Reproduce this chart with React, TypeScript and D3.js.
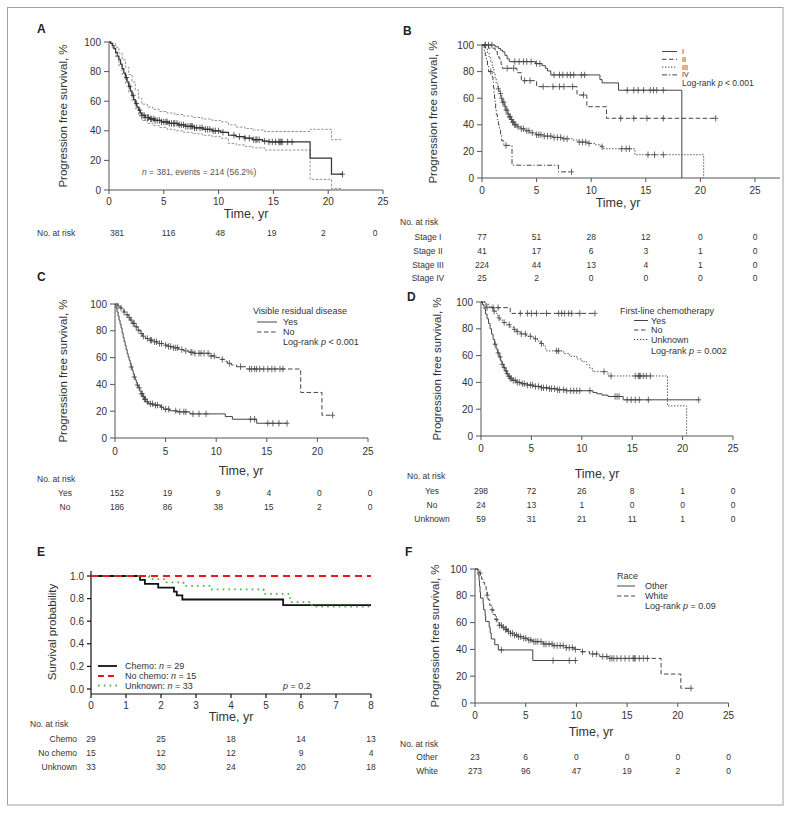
import React from 'react';
import * as d3 from 'd3';

const FONT = "'Liberation Sans', Arial, Helvetica, sans-serif";
const INK = '#333';
const AX = '#555';
const CUR = '#444';

// ---------------- shared ticks ----------------
const TIME_TICKS = [0, 5, 10, 15, 20, 25];
const PCT_TICKS = [0, 20, 40, 60, 80, 100];

// ---------------- Panel A ----------------
const A_OVERALL = [[0,100],[0.15,99],[0.3,97.5],[0.45,95.5],[0.6,93],[0.75,90.5],[0.9,88],[1.05,85],[1.2,82],[1.35,79],[1.5,76],[1.65,73],[1.8,70],[1.95,67],[2.1,64],[2.25,61],[2.4,58.5],[2.55,56],[2.7,54],[2.85,52],[3.0,50.5],[3.3,49],[3.7,48],[4.2,47],[4.8,46],[5.5,45],[6.3,44],[7.0,43],[7.8,42],[8.6,41],[9.4,40],[10.2,39],[10.9,37],[11.6,36],[12.4,35],[13.1,34],[14.0,33],[14.6,32.5],[18.35,21.5],[20.3,10.7]];
const A_UPPER = [[0,100],[0.3,99],[0.6,96.5],[0.9,92.5],[1.2,88],[1.5,83],[1.8,78],[2.1,73],[2.4,67.5],[2.7,62],[3.0,58],[3.5,56],[4.0,54.5],[4.6,53],[5.3,52],[6.0,51],[6.8,50],[7.6,49],[8.5,48],[9.4,47],[10.2,46],[10.9,44],[11.6,42.5],[12.4,41.5],[13.1,40.5],[14.2,39.5],[18.35,41],[20.3,34]];
const A_LOWER = [[0,100],[0.3,96],[0.6,90],[0.9,84],[1.2,78],[1.5,72],[1.8,66],[2.1,60],[2.4,55],[2.7,50],[3.0,47],[3.5,45],[4.0,43.5],[4.6,42.3],[5.3,41],[6.0,40],[6.8,39],[7.6,38],[8.5,37],[9.4,36],[10.2,35],[10.9,31.5],[11.6,30.5],[12.4,29.5],[13.1,28.5],[14.2,27],[18.35,7.2],[20.3,1]];
const A_END = 21.3;
const A_CENSOR = [1.6,1.9,2.2,2.5,2.8,3.0,3.2,3.3,3.5,3.6,3.8,3.9,4.1,4.2,4.4,4.6,4.8,5.0,5.2,5.3,5.5,5.7,5.9,6.0,6.2,6.4,6.6,6.8,7.0,7.2,7.4,7.5,7.6,7.8,8.0,8.3,8.5,8.8,9.0,9.2,9.5,9.7,10.0,10.4,11.4,11.9,12.4,12.8,13.2,13.4,13.5,13.7,14.2,14.6,14.9,15.2,15.5,15.6,15.7,15.8,16.3,16.7,21.3];
const A_RISK = [381, 116, 48, 19, 2, 0];

// ---------------- Panel B ----------------
const B_I = [[0,100],[1.2,98.7],[1.5,97.4],[1.7,96.1],[1.9,94.8],[2.1,92.2],[2.3,89.6],[2.5,87.5],[4.9,86],[5.5,84.5],[5.8,82.5],[6.0,80.5],[6.3,77.5],[10.8,74],[11.0,71.5],[12.5,66],[18.3,0]];
const B_I_END = 18.3;
const B_I_CENS = [0.3,0.6,0.9,3.0,3.4,3.8,4.1,4.5,5.0,5.3,6.6,7.1,7.4,7.8,8.1,8.4,9.1,9.4,13.3,13.9,14.3,14.8,15.4,15.7,16.0,16.6];
const B_II = [[0,100],[0.6,97.6],[1.2,95.1],[1.4,92.6],[1.55,90.2],[1.65,87.8],[1.75,85.4],[1.85,82.5],[3.2,79.2],[3.6,73.2],[5.0,68.7],[8.7,62.4],[9.6,53.6],[11.4,44.9]];
const B_II_END = 21.4;
const B_II_CENS = [0.3,2.3,2.9,3.9,4.4,5.6,6.5,7.1,7.5,8.3,9.3,12.7,13.9,15.1,16.6,21.4];
const B_III = [[0,100],[0.2,99],[0.35,97],[0.5,94],[0.65,91],[0.8,87],[0.95,83],[1.1,79],[1.2,75],[1.3,71],[1.45,67],[1.6,63.5],[1.75,60],[1.9,57],[2.05,54],[2.2,51],[2.35,48],[2.5,46],[2.65,44],[2.8,42],[2.95,40],[3.2,38.5],[3.5,37],[3.9,35.5],[4.4,34],[4.9,32.5],[5.6,31.5],[6.5,30.5],[7.3,29.5],[8.3,28.5],[8.8,27],[9.8,26],[10.4,25],[10.9,23.5],[11.1,22],[14.0,17.5],[20.3,0]];
const B_III_END = 20.3;
const B_III_CENS = [1.5,1.7,1.8,1.9,2.0,2.1,2.2,2.3,2.4,2.5,2.6,2.7,2.8,2.9,3.0,3.1,3.3,3.6,3.8,4.1,4.3,4.6,5.0,5.2,5.4,5.7,6.0,6.3,6.6,6.9,7.2,7.5,7.8,8.9,9.2,9.5,9.8,11.0,12.8,13.2,13.5,15.2,15.8,16.6];
const B_IV = [[0,100],[0.2,96],[0.3,92],[0.4,88],[0.5,84],[0.6,80],[0.95,76],[1.0,72],[1.05,68],[1.1,64],[1.15,60],[1.2,56],[1.25,52],[1.3,48],[1.4,44],[1.5,40],[1.6,36],[1.7,32],[1.8,28],[2.0,24.5],[2.75,9.6],[7.0,4.6]];
const B_IV_END = 8.2;
const B_IV_CENS = [0.8,2.2,8.2];
const B_RISK_LABELS = ['Stage I', 'Stage II', 'Stage III', 'Stage IV'];
const B_RISK = [[77,51,28,12,0,0],[41,17,6,3,1,0],[224,44,13,4,1,0],[25,2,0,0,0,0]];

// ---------------- Panel C ----------------
const C_YES = [[0,100],[0.1,97],[0.2,94],[0.3,91],[0.4,88],[0.5,85],[0.6,82],[0.7,78.5],[0.8,75],[0.9,72],[1.0,69],[1.1,66],[1.2,63],[1.3,60.5],[1.4,58],[1.5,55.5],[1.6,53],[1.7,50.5],[1.8,48],[1.9,45.5],[2.0,43.5],[2.1,41.5],[2.2,39.5],[2.3,37.5],[2.45,35],[2.6,33],[2.75,31],[2.9,29],[3.05,27],[3.3,25.5],[3.8,24.5],[4.5,23],[4.8,21.5],[5.4,20.3],[6.1,19.5],[7.4,18],[10.9,16],[11.6,14],[14.0,11]];
const C_YES_END = 17.0;
const C_YES_CENS = [1.6,1.9,2.2,2.4,2.6,2.7,2.8,2.9,3.0,3.2,3.5,3.7,4.0,4.2,4.6,5.0,5.3,6.0,6.4,6.8,7.0,7.7,8.3,9.0,13.4,13.8,15.1,15.6,16.2,17.0];
const C_NO = [[0,100],[0.3,98.5],[0.5,97],[0.7,95.5],[0.9,94],[1.1,92],[1.3,90],[1.5,88],[1.75,85.5],[2.0,83],[2.25,80.5],[2.5,78],[2.75,76],[3.0,74.3],[3.4,73],[3.8,71.8],[4.3,70.5],[4.8,69.3],[5.3,68.3],[5.8,67.3],[6.3,66],[6.8,65],[7.3,64],[7.8,63.2],[9.4,61.2],[9.9,60],[10.4,58.7],[10.8,57.2],[11.1,55.7],[11.5,54.5],[12.0,53.2],[13.0,51.5],[18.35,34],[20.45,17]];
const C_NO_END = 21.5;
const C_NO_CENS = [0.3,0.6,0.9,1.2,1.4,1.6,1.8,1.9,2.1,2.3,2.6,2.8,3.2,3.5,3.6,3.9,4.1,4.4,4.6,5.0,5.3,5.5,5.8,6.0,6.2,6.6,7.0,7.5,7.6,7.9,8.3,8.5,8.8,9.2,9.5,9.8,10.6,11.3,12.4,13.3,13.5,13.8,14.0,14.3,14.7,15.1,15.5,15.8,16.3,16.6,21.5];
const C_RISK_LABELS = ['Yes', 'No'];
const C_RISK = [[152,19,9,4,0,0],[186,86,38,15,2,0]];

// ---------------- Panel D ----------------
const D_YES = [[0,100],[0.15,98],[0.3,95],[0.45,91],[0.6,87.5],[0.75,84],[0.9,80],[1.05,76],[1.2,72],[1.35,68.5],[1.5,65],[1.65,62],[1.8,59],[1.95,56],[2.1,53.5],[2.25,51],[2.4,48.5],[2.55,46.5],[2.7,44.5],[2.85,43],[3.1,41.5],[3.5,40],[4.0,39],[4.6,38],[5.2,37],[6.0,36],[6.8,35.3],[7.6,34.5],[8.5,33.8],[11.1,32.5],[11.5,31.5],[12.0,30.5],[12.6,29.5],[14.1,27]];
const D_YES_END = 21.6;
const D_YES_CENS = [1.4,1.7,1.9,2.1,2.3,2.5,2.6,2.8,2.9,3.0,3.2,3.4,3.6,3.8,4.1,4.3,4.6,4.9,5.1,5.4,5.7,6.0,6.2,6.5,6.8,7.0,7.3,7.6,7.8,8.2,8.5,8.9,9.2,9.5,9.8,10.8,13.3,13.5,13.7,14.5,14.9,15.3,15.7,16.6,21.6];
const D_NO = [[0,100],[0.5,95.8],[2.9,91.5]];
const D_NO_END = 11.3;
const D_NO_CENS = [0.6,1.2,1.7,3.9,4.6,5.0,5.5,6.5,7.7,8.0,8.3,8.7,9.0,9.8,11.3];
const D_UNK = [[0,100],[0.5,98.3],[0.8,96.6],[1.1,94.9],[1.3,93.2],[1.5,91.5],[1.6,89.8],[1.75,88.1],[1.9,86.4],[2.2,84.7],[2.5,83],[2.9,81.3],[3.2,79.6],[3.5,77.9],[3.9,76.2],[4.5,74.4],[5.2,72.6],[5.6,70.8],[5.9,69],[6.2,67],[6.4,65],[6.5,63.5],[8.2,61.5],[8.8,59.5],[9.5,57.5],[10.0,55.5],[10.5,53],[10.8,50.5],[11.1,48],[12.6,44.8],[18.5,22.5],[20.4,0]];
const D_UNK_END = 20.4;
const D_UNK_CENS = [1.3,1.8,2.3,2.8,3.3,3.6,4.0,4.4,4.9,5.4,6.0,7.5,7.7,12.2,12.9,15.3,15.6,15.7,15.8,16.1,16.4,16.8];
const D_RISK_LABELS = ['Yes', 'No', 'Unknown'];
const D_RISK = [[298,72,26,8,1,0],[24,13,1,0,0,0],[59,31,21,11,1,0]];

// ---------------- Panel E ----------------
const E_X_TICKS = [0,1,2,3,4,5,6,7,8];
const E_Y_TICKS = [0,0.2,0.4,0.6,0.8,1.0];
const E_CHEMO = [[0,1],[1.4,0.966],[1.54,0.931],[1.92,0.897],[2.37,0.862],[2.45,0.828],[2.61,0.792],[5.49,0.743]];
const E_NOCHEMO = [[0,1]];
const E_UNK = [[0,1],[1.66,0.973],[2.16,0.944],[2.64,0.912],[3.45,0.882],[4.93,0.841],[5.69,0.768],[6.31,0.729]];
const E_END = 8;
const E_RISK_TIMES = [0,2,4,6,8];
const E_RISK_LABELS = ['Chemo', 'No chemo', 'Unknown'];
const E_RISK = [[29,25,18,14,13],[15,12,12,9,4],[33,30,24,20,18]];

// ---------------- Panel F ----------------
const F_OTHER = [[0,100],[0.3,95.7],[0.4,91.3],[0.45,87],[0.5,82.6],[0.55,78.3],[0.8,73.9],[0.85,69.6],[1.0,65.2],[1.05,60.9],[1.4,56.5],[1.5,52.2],[1.6,47.8],[1.95,43.5],[2.3,39.6],[5.7,31.7]];
const F_OTHER_END = 9.9;
const F_OTHER_CENS = [2.6,7.7,9.3,9.9];
const F_WHITE = [[0,100],[0.3,98.5],[0.45,97],[0.55,95],[0.65,92.5],[0.8,90],[0.95,87],[1.1,84],[1.2,80.5],[1.3,77],[1.45,73],[1.6,69.5],[1.8,66],[2.0,62.5],[2.2,60],[2.4,58],[2.65,56.5],[2.9,55],[3.2,53.5],[3.5,52],[3.9,50.7],[4.3,49.5],[4.8,48.3],[5.2,47],[5.7,45.8],[6.7,44],[7.7,42.8],[9.0,41.3],[9.8,40],[10.4,38.3],[11.3,36.6],[12.3,34.6],[13.3,33.3],[18.35,21.6],[20.3,11]];
const F_WHITE_END = 21.3;
const F_WHITE_CENS = [0.5,1.2,1.7,2.1,2.4,2.6,2.8,3.0,3.1,3.3,3.5,3.7,3.9,4.1,4.3,4.5,4.8,5.0,5.3,5.5,5.8,6.0,6.2,6.5,6.8,7.0,7.3,7.6,7.8,8.1,8.4,8.7,9.0,9.3,9.6,9.9,10.6,11.6,12.0,12.6,13.0,13.3,13.5,13.7,14.0,14.4,14.8,15.2,15.6,15.7,15.8,16.2,16.6,17.0,21.3];
const F_RISK_LABELS = ['Other', 'White'];
const F_RISK = [[23,6,0,0,0,0],[273,96,47,19,2,0]];

// ---------------- helpers ----------------
function survAt(steps: number[][], t: number) {
  let v = steps[0][1];
  for (const s of steps) { if (s[0] <= t) v = s[1]; else break; }
  return v;
}

function KM({ steps, end, censors = [], x, y, dash, stroke = CUR, width = 1, tick = 3.2 }: any) {
  const last = steps[steps.length - 1];
  const pts = steps.slice();
  if (end > last[0]) pts.push([end, last[1]]);
  const line = d3.line<number[]>().x(d => x(d[0])).y(d => y(d[1])).curve(d3.curveStepAfter);
  return (
    <g>
      <path d={line(pts) || ''} fill="none" stroke={stroke} strokeWidth={width} strokeDasharray={dash} />
      {censors.map((c: number, i: number) => {
        const v = survAt(steps, c);
        const cx = x(c), cy = y(v);
        return (
          <g key={i} stroke={stroke} strokeWidth={0.8}>
            <line x1={cx} x2={cx} y1={cy - tick} y2={cy + tick} />
            <line x1={cx - 2.5} x2={cx + 2.5} y1={cy} y2={cy} />
          </g>
        );
      })}
    </g>
  );
}

function PctAxes({ x, y, xEnd, tickY, titleX, titleY, ylabX, ylabY }: any) {
  const x0 = x(0), y0 = y(0);
  return (
    <g fontFamily={FONT}>
      <line x1={x0} x2={x0} y1={y(0)} y2={y(100)} stroke={AX} />
      {PCT_TICKS.map(t => (
        <g key={t}>
          <line x1={x0 - 5} x2={x0} y1={y(t)} y2={y(t)} stroke={AX} />
          <text x={x0 - 8} y={y(t)} textAnchor="end" dominantBaseline="central" fontSize={10} fill={INK}>{t}</text>
        </g>
      ))}
      <line x1={x0} x2={xEnd ?? x(25)} y1={y0} y2={y0} stroke={AX} />
      {TIME_TICKS.map(t => (
        <g key={t}>
          <line x1={x(t)} x2={x(t)} y1={y0} y2={y0 + 4} stroke={AX} />
          <text x={x(t)} y={tickY} textAnchor="middle" dominantBaseline="central" fontSize={10} fill={INK}>{t}</text>
        </g>
      ))}
      <text x={titleX} y={titleY} textAnchor="middle" dominantBaseline="central" fontSize={12.5} fill={INK}>Time, yr</text>
      <text transform={`translate(${ylabX},${ylabY}) rotate(-90)`} textAnchor="middle" dominantBaseline="central" fontSize={11.5} fill={INK}>Progression free survival, %</text>
    </g>
  );
}

function Risk({ hx, hy, labels, nameX, nameAnchor = 'middle', rowsY, values, colX }: any) {
  return (
    <g fontFamily={FONT} fontSize={8.5} fill={INK}>
      <text x={hx} y={hy} dominantBaseline="central">No. at risk</text>
      {labels.map((l: string, i: number) => (
        <g key={l}>
          <text x={nameX} y={rowsY[i]} textAnchor={nameAnchor} dominantBaseline="central">{l}</text>
          {values[i].map((v: number, j: number) => (
            <text key={j} x={colX[j]} y={rowsY[i]} textAnchor="middle" dominantBaseline="central">{v}</text>
          ))}
        </g>
      ))}
    </g>
  );
}

function LegendRow({ x1, x2, tx, y, dash, label, stroke = CUR, width = 1, fs = 8.5 }: any) {
  return (
    <g>
      <line x1={x1} x2={x2} y1={y} y2={y} stroke={stroke} strokeWidth={width} strokeDasharray={dash} />
      <text x={tx} y={y} dominantBaseline="central" fontSize={fs} fill={INK} fontFamily={FONT}>{label}</text>
    </g>
  );
}

function PanelLabel({ x, y, t }: any) {
  return <text x={x} y={y} dominantBaseline="central" fontSize={12} fontWeight="bold" fill="#222" fontFamily={FONT}>{t}</text>;
}

const DASH = '4.5,2.5';
const DOT = '1.3,1.7';
const DASHDOT = '5,2,1.3,2';

export default function App() {
  // scales
  const xA = d3.scaleLinear().domain([0, 25]).range([109, 383]);
  const yA = d3.scaleLinear().domain([0, 100]).range([190, 42]);
  const riskA = d3.scaleLinear().domain([0, 25]).range([117, 375]);

  const xB = d3.scaleLinear().domain([0, 25]).range([482, 755]);
  const yB = d3.scaleLinear().domain([0, 100]).range([178, 45]);

  const xC = d3.scaleLinear().domain([0, 25]).range([115, 368]);
  const yC = d3.scaleLinear().domain([0, 100]).range([438, 304]);

  const xD = d3.scaleLinear().domain([0, 25]).range([481, 733]);
  const yD = d3.scaleLinear().domain([0, 100]).range([436, 302]);

  const xE = d3.scaleLinear().domain([0, 8]).range([91, 371]);
  const yE = d3.scaleLinear().domain([0, 1]).range([689, 576]);

  const xF = d3.scaleLinear().domain([0, 25]).range([475, 728.5]);
  const yF = d3.scaleLinear().domain([0, 100]).range([703, 569]);

  const it = (s: string) => <tspan fontStyle="italic">{s}</tspan>;

  return (
    <svg width={791} height={813} style={{ position: 'absolute', left: 0, top: 0 }} fontFamily={FONT}>
      <rect x={0} y={0} width={791} height={813} fill="#fff" />
      <rect x={7.5} y={7.5} width={775.5} height={797.5} fill="none" stroke="#a0a0a0" strokeWidth={1} />

      {/* ---------- A ---------- */}
      <PanelLabel x={37} y={29} t="A" />
      <PctAxes x={xA} y={yA} tickY={201} titleX={246} titleY={214} ylabX={63} ylabY={116} />
      <KM steps={A_UPPER} end={A_END} x={xA} y={yA} dash="2.5,1.5" stroke="#888" width={0.9} />
      <KM steps={A_LOWER} end={A_END} x={xA} y={yA} dash="2.5,1.5" stroke="#888" width={0.9} />
      <KM steps={A_OVERALL} end={A_END} censors={A_CENSOR} x={xA} y={yA} stroke="#333" width={1.2} />
      <text x={142} y={172} fontSize={8.5} fill="#555" dominantBaseline="central">{it('n')}{' = 381, events = 214 (56.2%)'}</text>
      <Risk hx={37} hy={233} labels={['']} nameX={60} rowsY={[233]} values={[A_RISK]} colX={TIME_TICKS.map(t => riskA(t))} />

      {/* ---------- B ---------- */}
      <PanelLabel x={403} y={31} t="B" />
      <PctAxes x={xB} y={yB} xEnd={780} tickY={190} titleX={618} titleY={203} ylabX={433} ylabY={112} />
      <KM steps={B_I} end={B_I_END} censors={B_I_CENS} x={xB} y={yB} />
      <KM steps={B_II} end={B_II_END} censors={B_II_CENS} x={xB} y={yB} dash={DASH} />
      <KM steps={B_III} end={B_III_END} censors={B_III_CENS} x={xB} y={yB} dash={DOT} />
      <KM steps={B_IV} end={B_IV_END} censors={B_IV_CENS} x={xB} y={yB} dash={DASHDOT} />
      <LegendRow x1={662} x2={677} tx={682} y={51.5} label="I" fs={7} />
      <LegendRow x1={662} x2={677} tx={682} y={59.3} label="II" dash={DASH} fs={7} />
      <LegendRow x1={662} x2={677} tx={682} y={67.1} label="III" dash={DOT} fs={7} />
      <LegendRow x1={662} x2={677} tx={682} y={74.9} label="IV" dash={DASHDOT} fs={7} />
      <text x={682} y={83} fontSize={8.5} fill={INK} dominantBaseline="central">{'Log-rank '}{it('p')}{' < 0.001'}</text>
      <Risk hx={400} hy={222} labels={B_RISK_LABELS} nameX={428} rowsY={[237, 251, 265, 278]} values={B_RISK} colX={TIME_TICKS.map(t => xB(t))} />

      {/* ---------- C ---------- */}
      <PanelLabel x={37} y={277} t="C" />
      <PctAxes x={xC} y={yC} tickY={451} titleX={241} titleY={471} ylabX={63} ylabY={371} />
      <KM steps={C_YES} end={C_YES_END} censors={C_YES_CENS} x={xC} y={yC} />
      <KM steps={C_NO} end={C_NO_END} censors={C_NO_CENS} x={xC} y={yC} dash={DASH} />
      <text x={253} y={311} fontSize={9} fill={INK} dominantBaseline="central">Visible residual disease</text>
      <LegendRow x1={257} x2={277} tx={283} y={322} label="Yes" fs={9} />
      <LegendRow x1={257} x2={277} tx={283} y={332} label="No" dash={DASH} fs={9} />
      <text x={283} y={342} fontSize={9} fill={INK} dominantBaseline="central">{'Log-rank '}{it('p')}{' < 0.001'}</text>
      <Risk hx={37} hy={479} labels={C_RISK_LABELS} nameX={65} rowsY={[493, 507]} values={C_RISK} colX={TIME_TICKS.map(t => xC(t) + 2)} />

      {/* ---------- D ---------- */}
      <PanelLabel x={407} y={297} t="D" />
      <PctAxes x={xD} y={yD} tickY={448} titleX={597} titleY={474} ylabX={437} ylabY={369} />
      <KM steps={D_YES} end={D_YES_END} censors={D_YES_CENS} x={xD} y={yD} />
      <KM steps={D_NO} end={D_NO_END} censors={D_NO_CENS} x={xD} y={yD} dash={DASH} />
      <KM steps={D_UNK} end={D_UNK_END} censors={D_UNK_CENS} x={xD} y={yD} dash={DOT} />
      <text x={620} y={311} fontSize={9} fill={INK} dominantBaseline="central">First-line chemotherapy</text>
      <LegendRow x1={634} x2={648} tx={651} y={320.5} label="Yes" fs={9} />
      <LegendRow x1={634} x2={648} tx={651} y={330} label="No" dash={DASH} fs={9} />
      <LegendRow x1={634} x2={648} tx={651} y={339.5} label="Unknown" dash={DOT} fs={9} />
      <text x={651} y={350.5} fontSize={9} fill={INK} dominantBaseline="central">{'Log-rank '}{it('p')}{' = 0.002'}</text>
      <Risk hx={407} hy={476} labels={D_RISK_LABELS} nameX={432} rowsY={[491, 505, 519]} values={D_RISK} colX={TIME_TICKS.map(t => xD(t))} />

      {/* ---------- E ---------- */}
      <PanelLabel x={37} y={552} t="E" />
      <g>
        <line x1={xE(0)} x2={xE(0)} y1={571} y2={694} stroke="#111" strokeWidth={1.2} />
        {E_Y_TICKS.map(t => (
          <g key={t}>
            <line x1={xE(0) - 4} x2={xE(0)} y1={yE(t)} y2={yE(t)} stroke="#111" strokeWidth={1.2} />
            <text x={xE(0) - 7} y={yE(t)} textAnchor="end" dominantBaseline="central" fontSize={10} fill={INK}>{t.toFixed(1)}</text>
          </g>
        ))}
        <line x1={xE(0)} x2={xE(8)} y1={694} y2={694} stroke="#111" strokeWidth={1.2} />
        {E_X_TICKS.map(t => (
          <g key={t}>
            <line x1={xE(t)} x2={xE(t)} y1={694} y2={698} stroke="#111" strokeWidth={1.2} />
            <text x={xE(t)} y={705} textAnchor="middle" dominantBaseline="central" fontSize={10} fill={INK}>{t}</text>
          </g>
        ))}
        <text x={231} y={717} textAnchor="middle" dominantBaseline="central" fontSize={12.5} fill={INK}>Time, yr</text>
        <text transform="translate(52,632) rotate(-90)" textAnchor="middle" dominantBaseline="central" fontSize={11.5} fill={INK}>Survival probability</text>
      </g>
      <KM steps={E_CHEMO} end={E_END} x={xE} y={yE} stroke="#111" width={1.8} />
      <KM steps={E_UNK} end={E_END} x={xE} y={yE} stroke="#4daf4a" width={1.8} dash="1.6,4.2" />
      <KM steps={E_NOCHEMO} end={E_END} x={xE} y={yE} stroke="#e41a1c" width={1.8} dash="7,5" />
      <LegendRow x1={98} x2={117} tx={125} y={666} stroke="#111" width={1.8} label={<>{'Chemo: '}{it('n')}{' = 29'}</>} fs={9} />
      <LegendRow x1={98} x2={117} tx={125} y={676} stroke="#e41a1c" width={1.8} dash="6,4" label={<>{'No chemo: '}{it('n')}{' = 15'}</>} fs={9} />
      <LegendRow x1={98} x2={117} tx={125} y={685.5} stroke="#4daf4a" width={1.8} dash="1.6,4.2" label={<>{'Unknown: '}{it('n')}{' = 33'}</>} fs={9} />
      <text x={283} y={685.5} fontSize={9} fill={INK} dominantBaseline="central">{it('p')}{' = 0.2'}</text>
      <Risk hx={30} hy={724} labels={E_RISK_LABELS} nameX={77} nameAnchor="end" rowsY={[739, 753, 767]} values={E_RISK} colX={E_RISK_TIMES.map(t => xE(t))} />

      {/* ---------- F ---------- */}
      <PanelLabel x={405} y={552} t="F" />
      <PctAxes x={xF} y={yF} tickY={715} titleX={591} titleY={732} ylabX={435} ylabY={636} />
      <KM steps={F_OTHER} end={F_OTHER_END} censors={F_OTHER_CENS} x={xF} y={yF} />
      <KM steps={F_WHITE} end={F_WHITE_END} censors={F_WHITE_CENS} x={xF} y={yF} dash={DASH} />
      <text x={617} y={576} fontSize={9} fill={INK} dominantBaseline="central">Race</text>
      <LegendRow x1={617} x2={635} tx={645} y={586} label="Other" fs={9} />
      <LegendRow x1={617} x2={635} tx={645} y={596} label="White" dash={DASH} fs={9} />
      <text x={645} y={606} fontSize={9} fill={INK} dominantBaseline="central">{'Log-rank '}{it('p')}{' = 0.09'}</text>
      <Risk hx={400} hy={744} labels={F_RISK_LABELS} nameX={427} rowsY={[757, 771]} values={F_RISK} colX={TIME_TICKS.map(t => xF(t))} />
    </svg>
  );
}
